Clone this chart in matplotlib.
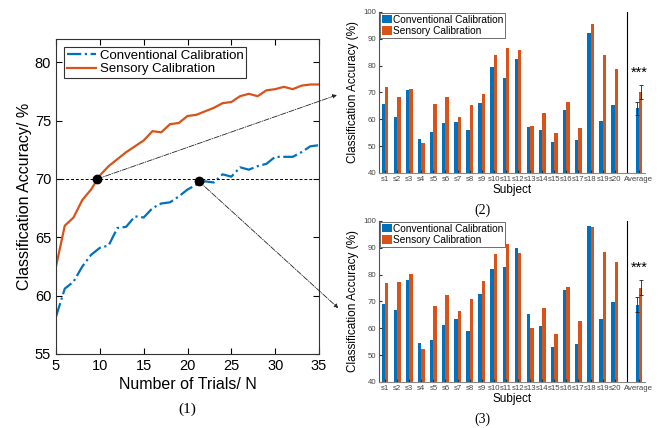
import numpy as np
import matplotlib.pyplot as plt

plt.rcParams['font.family'] = ['Liberation Sans', 'DejaVu Sans']

# ---- data: accuracy vs number of trials ----
trials = np.arange(5, 36)
conv_curve = [58.2, 60.6, 61.2, 62.5, 63.5, 64.1, 64.3, 65.8, 65.9, 66.8, 66.7,
              67.5, 67.9, 68.0, 68.5, 69.1, 69.5, 69.8, 69.7, 70.4, 70.2, 71.0,
              70.8, 71.1, 71.3, 71.9, 71.9, 71.9, 72.3, 72.8, 72.9]
sens_curve = [62.5, 66.0, 66.7, 68.2, 69.1, 70.3, 71.1, 71.7, 72.3, 72.8, 73.3,
              74.1, 74.0, 74.7, 74.8, 75.4, 75.5, 75.8, 76.1, 76.5, 76.6, 77.1,
              77.3, 77.1, 77.6, 77.7, 77.9, 77.7, 78.0, 78.1, 78.1]
mark_x = [9.7, 21.3]
mark_y = [70.0, 69.8]

# ---- data: per-subject accuracy ----
subjects = ['s%d' % i for i in range(1, 21)]
conv2 = [65.7, 61.0, 70.8, 52.5, 55.2, 58.5, 59.0, 56.0, 66.0, 79.6,
         75.3, 82.5, 57.3, 56.0, 51.5, 63.6, 52.2, 92.1, 59.3, 65.4]
sens2 = [72.1, 68.5, 71.4, 51.3, 65.8, 68.3, 60.8, 65.3, 69.3, 84.0,
         86.7, 85.9, 57.5, 62.3, 55.0, 66.5, 56.7, 95.4, 83.8, 78.9]
avg2 = [64.1, 70.3]
err2 = [2.5, 2.6]

conv3 = [69.0, 66.8, 78.0, 54.4, 55.5, 61.3, 63.6, 58.9, 72.9, 82.2,
         83.0, 90.0, 65.2, 60.9, 53.1, 74.1, 54.0, 98.1, 63.5, 69.7]
sens3 = [76.8, 77.1, 80.1, 52.2, 68.4, 72.5, 66.6, 71.0, 77.7, 87.7,
         91.5, 88.1, 60.0, 67.7, 57.9, 75.5, 62.8, 97.9, 88.4, 84.7]
avg3 = [68.8, 75.2]
err3 = [2.7, 2.8]

blue = '#0072BD'
red = '#D95319'

fig = plt.figure(figsize=(6.62, 4.28), dpi=100)

# ---- (1) line plot ----
ax1 = fig.add_axes([0.0846, 0.1729, 0.3973, 0.736])
ax1.plot(trials, conv_curve, '-.', color=blue, lw=1.6, label='Conventional Calibration')
ax1.plot(trials, sens_curve, '-', color=red, lw=1.6, label='Sensory Calibration')
ax1.axhline(70, color='k', ls='--', lw=0.7, dashes=(3, 2))
ax1.plot(mark_x, mark_y, 'o', color='k', ms=6, zorder=5)
ax1.set_xlim(5, 35)
ax1.set_ylim(55, 82)
ax1.set_xticks(range(5, 36, 5))
ax1.set_yticks(range(55, 81, 5))
ax1.tick_params(direction='in', top=True, right=True, labelsize=10.5, length=4)
for s in ax1.spines.values():
    s.set_color('#333333')
ax1.set_xlabel('Number of Trials/ N', fontsize=11.5, labelpad=3)
ax1.set_ylabel('Classification Accuracy/ %', fontsize=11.5, labelpad=2)
leg = ax1.legend(loc='upper left', fontsize=9.5, fancybox=False, edgecolor='#333333',
                 framealpha=1, borderpad=0.2, handlelength=2.2, handletextpad=0.3,
                 labelspacing=0.1, borderaxespad=0.6)
leg.get_frame().set_linewidth(0.8)
fig.text(0.2833, 0.035, '(1)', fontsize=11, family=['Liberation Serif', 'DejaVu Serif'],
         ha='center')

# arrows from the marked points to the bar charts
for (px, py), target in zip(zip(mark_x, mark_y), [(0.509, 0.778), (0.511, 0.28)]):
    ax1.annotate('', xy=target, xycoords='figure fraction', xytext=(px, py),
                 textcoords='data', annotation_clip=False,
                 arrowprops=dict(arrowstyle='-|>', color='#222222', lw=0.6, ls='-.',
                                 mutation_scale=6, shrinkA=0, shrinkB=0))


def bar_panel(rect, conv, sens, avg, err, tag):
    ax = fig.add_axes(rect)
    x = np.arange(1, len(subjects) + 1)
    w = 0.28
    ax.bar(x - w / 2, conv, w, color=blue, label='Conventional Calibration')
    ax.bar(x + w / 2, sens, w, color=red, label='Sensory Calibration')
    xa = len(subjects) + 2
    ax.bar([xa - w / 2], [avg[0]], w, color=blue, yerr=[err[0]], capsize=1.5,
           error_kw=dict(lw=0.6, capthick=0.6, ecolor='#222222'))
    ax.bar([xa + w / 2], [avg[1]], w, color=red, yerr=[err[1]], capsize=1.5,
           error_kw=dict(lw=0.6, capthick=0.6, ecolor='#222222'))
    ax.text(xa, avg[1] + err[1] + 2.0, '***', ha='center', va='bottom', fontsize=10.5)
    ax.axvline(len(subjects) + 1, color='k', lw=0.8)
    ax.set_xlim(0.5, xa + 0.5)
    ax.set_ylim(40, 100)
    ax.set_yticks(range(40, 101, 10))
    ax.set_xticks(list(x) + [xa])
    ax.set_xticklabels(subjects + ['Average'])
    ax.tick_params(direction='in', labelsize=5.6, length=2, pad=2, colors='#333333',
                   labelcolor='#444444')
    ax.spines['top'].set_visible(False)
    ax.spines['right'].set_visible(False)
    ax.spines['left'].set_color('#555555')
    ax.spines['bottom'].set_color('#888888')
    ax.set_xlabel('Subject', fontsize=8.5, labelpad=1)
    ax.set_ylabel('Classification Accuracy (%)', fontsize=8.5, labelpad=3)
    lg = ax.legend(loc='upper left', fontsize=7.3, fancybox=False, edgecolor='#555555',
                   framealpha=1, borderpad=0.15, handlelength=1.0, handleheight=0.9,
                   handletextpad=0.1, labelspacing=0.15, borderaxespad=0.1)
    lg.get_frame().set_linewidth(0.6)
    fig.text(rect[0] + rect[2] * 0.39, rect[1] - 0.095, tag, fontsize=10,
             family=['Liberation Serif', 'DejaVu Serif'], ha='center')
    return ax


bar_panel([0.5725, 0.5958, 0.4018, 0.3762], conv2, sens2, avg2, err2, '(2)')
bar_panel([0.5725, 0.1075, 0.4018, 0.3762], conv3, sens3, avg3, err3, '(3)')

fig.savefig('out.png', dpi=100)
